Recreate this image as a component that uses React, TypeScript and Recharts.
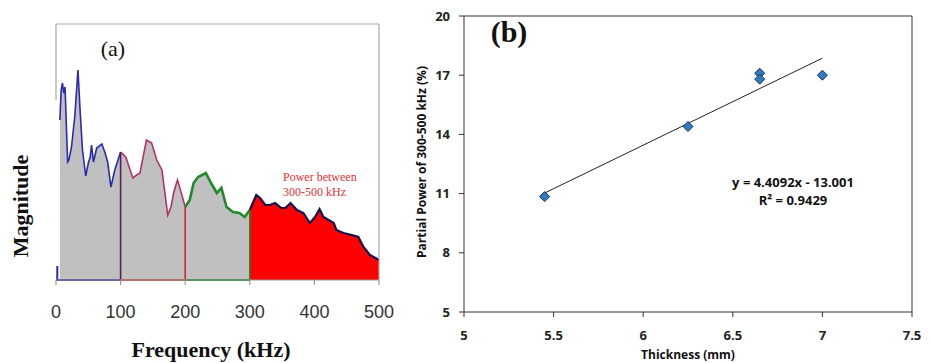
import React from "react";
import {
  ComposedChart,
  Area,
  Line,
  Scatter,
  XAxis,
  YAxis,
  ReferenceLine,
} from "recharts";

// (a) spectrum: frequency (kHz) and magnitude (arbitrary units)
const freqKHz = [
  6, 8, 10, 12, 14, 18, 20, 24, 29, 34, 37, 41, 46, 50, 53, 55, 58, 63, 71, 76,
  80, 85, 91, 100, 108, 119, 125, 130, 140, 148, 156, 164, 173, 178, 182, 188, 194, 200, 207, 213,
  220, 232, 240, 249, 256, 264, 274, 284, 292, 300, 310, 316, 324, 331, 339, 349, 355, 363, 373, 383,
  393, 401, 408, 414, 422, 430, 434, 445, 458, 468, 476, 486, 500,
];
const magnitude = [
  160, 190, 197, 187, 193, 118, 120, 133, 163, 210, 173, 130, 104, 117, 123, 135, 118, 132, 136, 127,
  118, 93, 110, 128, 123, 102, 105, 107, 140, 137, 120, 110, 65, 73, 87, 100, 87, 73, 80, 97,
  103, 107, 97, 87, 92, 73, 68, 67, 63, 70, 85, 82, 75, 75, 77, 72, 72, 77, 70, 67,
  57, 63, 71, 63, 60, 57, 50, 47, 45, 43, 33, 25, 20,
];
const bandEdges = [0, 100, 200, 300, 500];
const freqTicks = [0, 100, 200, 300, 400, 500];

// (b) thickness vs partial power
const thicknessMm = [5.45, 6.25, 6.65, 6.65, 7.0];
const partialPower = [10.85, 14.4, 17.1, 16.8, 17.0];
const trendSlope = 4.4092;
const trendIntercept = -13.001;
const thickTicks = [5, 5.5, 6, 6.5, 7, 7.5];
const powerTicks = [5, 8, 11, 14, 17, 20];

const bandStyle = [
  { stroke: "#2a2ab0", width: 1.6, fill: "#c0c0c0", edge: "#3a3aa0" },
  { stroke: "#b8306a", width: 1.6, fill: "#c0c0c0", edge: "#c84848" },
  { stroke: "#1f8a2a", width: 2.6, fill: "#c0c0c0", edge: "#1f8a2a" },
  { stroke: "#12124e", width: 2.2, fill: "#ff0000", edge: "#ff0000" },
];
const edgeColors = ["#5a2050", "#c82828", "#1f8a2a"];

const spectrum = freqKHz.map((f, i) => {
  const row: Record<string, number | null> = { f };
  for (let b = 0; b < 4; b++) {
    row["b" + b] = f >= bandEdges[b] && f <= bandEdges[b + 1] ? magnitude[i] : null;
  }
  return row;
});

const points = thicknessMm.map((x, i) => ({ x, y: partialPower[i] }));
const trend = [thicknessMm[0], thicknessMm[4]].map((x) => ({
  x,
  y: trendSlope * x + trendIntercept,
}));

const magAt = (f: number) => magnitude[freqKHz.indexOf(f)];

const Diamond = (props: any) => {
  const { cx, cy } = props;
  const r = 5;
  return (
    <polygon
      points={`${cx},${cy - r} ${cx + r},${cy} ${cx},${cy + r} ${cx - r},${cy}`}
      fill="#2f7cc4"
      stroke="#1b2f48"
      strokeWidth={1}
    />
  );
};

const sans = "'Open Sans', sans-serif";
const serif = "'Liberation Serif', 'Times New Roman', serif";

export default function App() {
  return (
    <div style={{ position: "absolute", left: 0, top: 0, width: 930, height: 363, background: "#fff" }}>
      <div style={{ position: "absolute", left: 0, top: 0 }}>
        <ComposedChart
          width={400}
          height={363}
          data={spectrum}
          margin={{ top: 24, right: 21, left: 56, bottom: 23 }}
        >
          <XAxis
            dataKey="f"
            type="number"
            domain={[0, 500]}
            ticks={freqTicks}
            height={60}
            axisLine={{ stroke: "#999" }}
            tickLine={{ stroke: "#888" }}
            tickSize={5}
            tickMargin={20}
            tick={{ fontSize: 18, fill: "#333", fontFamily: "'Liberation Sans', Arial, sans-serif" }}
          />
          <YAxis hide type="number" domain={[0, 256]} />
          {bandStyle.map((s, b) => (
            <Area
              key={b}
              dataKey={"b" + b}
              type="linear"
              stroke={s.stroke}
              strokeWidth={s.width}
              fill={s.fill}
              fillOpacity={1}
              isAnimationActive={false}
              dot={false}
              activeDot={false}
            />
          ))}
          {edgeColors.map((c, i) => (
            <ReferenceLine
              key={"e" + i}
              segment={[
                { x: bandEdges[i + 1], y: 0 },
                { x: bandEdges[i + 1], y: magAt(bandEdges[i + 1]) },
              ]}
              stroke={c}
              strokeWidth={1.6}
            />
          ))}
          {bandStyle.slice(0, 3).map((s, b) => (
            <ReferenceLine
              key={"base" + b}
              segment={[
                { x: bandEdges[b], y: 0 },
                { x: bandEdges[b + 1], y: 0 },
              ]}
              stroke={s.edge}
              strokeWidth={2}
            />
          ))}
          <ReferenceLine y={256} stroke="#aaa" strokeWidth={1.2} />
          <ReferenceLine x={500} stroke="#aaa" strokeWidth={1.2} />
          <ReferenceLine
            segment={[
              { x: 0, y: 180 },
              { x: 0, y: 256 },
            ]}
            stroke="#aaa"
            strokeWidth={1.2}
          />
          <ReferenceLine
            segment={[
              { x: 2, y: 0 },
              { x: 2, y: 14 },
            ]}
            stroke="#2a2ab0"
            strokeWidth={2}
          />
        </ComposedChart>
      </div>

      <div style={{ position: "absolute", left: 400, top: 0 }}>
        <ComposedChart width={530} height={363} margin={{ top: 16, right: 18, left: 20, bottom: 11 }}>
          <XAxis
            dataKey="x"
            type="number"
            domain={[5, 7.5]}
            ticks={thickTicks}
            height={40}
            axisLine={{ stroke: "#333" }}
            tickLine={{ stroke: "#333" }}
            tickSize={5}
            tickMargin={14}
            tick={{ fontSize: 13, fill: "#222", fontWeight: 700, fontFamily: sans }}
          />
          <YAxis
            dataKey="y"
            type="number"
            domain={[5, 20]}
            ticks={powerTicks}
            width={44}
            axisLine={{ stroke: "#333" }}
            tickLine={{ stroke: "#333" }}
            tickSize={5}
            tickMargin={9}
            tick={{ fontSize: 13, fill: "#222", fontWeight: 700, fontFamily: sans }}
          />
          <ReferenceLine y={20} stroke="#333" />
          <ReferenceLine x={7.5} stroke="#333" />
          <Line
            data={trend}
            dataKey="y"
            type="linear"
            stroke="#222"
            strokeWidth={1}
            dot={false}
            activeDot={false}
            isAnimationActive={false}
          />
          <Scatter data={points} dataKey="y" shape={Diamond} isAnimationActive={false} />
        </ComposedChart>
      </div>

      <svg
        width={930}
        height={363}
        style={{ position: "absolute", left: 0, top: 0, pointerEvents: "none" }}
      >
        <text x={113} y={56} textAnchor="middle" fontFamily={serif} fontSize={22} fill="#111">
          (a)
        </text>
        <text x={283} y={181} fontFamily={serif} fontSize={12} fill="#e83030">
          Power between
        </text>
        <text x={283} y={196} fontFamily={serif} fontSize={12} fill="#e83030">
          300-500 kHz
        </text>
        <text
          x={0}
          y={0}
          transform="translate(28,206) rotate(-90)"
          textAnchor="middle"
          fontFamily={serif}
          fontWeight={700}
          fontSize={22}
          fill="#111"
        >
          Magnitude
        </text>
        <text x={211} y={357} textAnchor="middle" fontFamily={serif} fontWeight={700} fontSize={22} fill="#111">
          Frequency (kHz)
        </text>

        <text x={509} y={42} textAnchor="middle" fontFamily={serif} fontWeight={700} fontSize={30} fill="#111">
          (b)
        </text>
        <text x={793} y={187} textAnchor="middle" fontFamily={sans} fontWeight={700} fontSize={13} fill="#111">
          y = 4.4092x - 13.001
        </text>
        <text x={793} y={205} textAnchor="middle" fontFamily={sans} fontWeight={700} fontSize={13} fill="#111">
          R² = 0.9429
        </text>
        <text
          x={0}
          y={0}
          transform="translate(426,162) rotate(-90)"
          textAnchor="middle"
          fontFamily={sans}
          fontWeight={700}
          fontSize={12}
          fill="#111"
        >
          Partial Power of 300-500 kHz (%)
        </text>
        <text x={688} y={359} textAnchor="middle" fontFamily={sans} fontWeight={700} fontSize={12} fill="#111">
          Thickness (mm)
        </text>
      </svg>
    </div>
  );
}
